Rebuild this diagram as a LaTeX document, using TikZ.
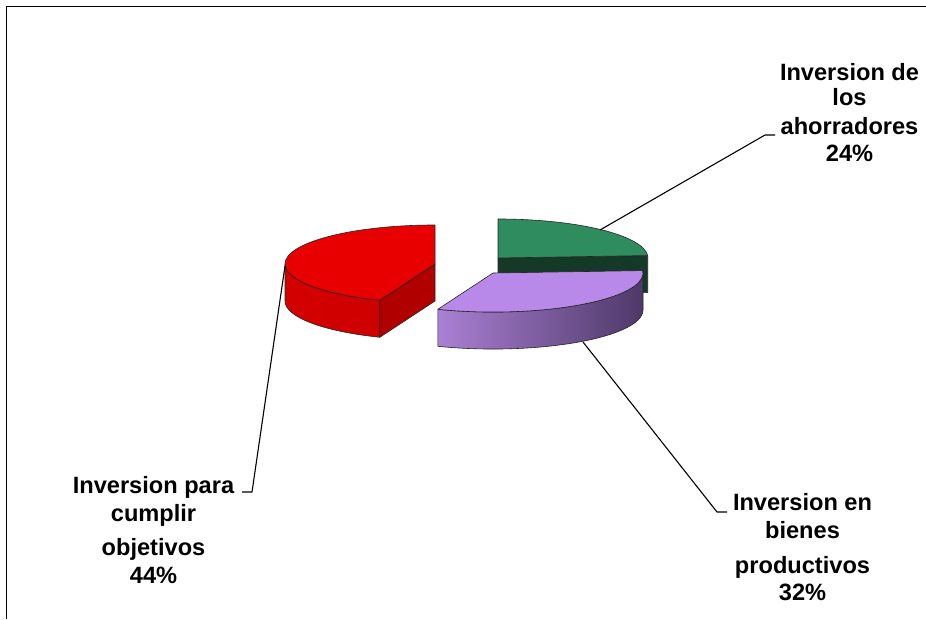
\documentclass[tikz,border=0pt]{standalone}
\usepackage{fontspec}
\setmainfont{Liberation Sans}
\newfontfamily\lblfont{Liberation Sans}[BoldFont={Liberation Sans Bold}]
\begin{document}
\begin{tikzpicture}[x=1pt,y=1pt,
  lbl/.style={font=\lblfont\bfseries\fontsize{23.6}{28}\selectfont, anchor=base, inner sep=0pt, text=black},
  leader/.style={draw=black, line width=1.1pt},
  edgeline/.style={draw=black!85, line width=0.6pt, line join=round},
  frame/.style={draw=black, line width=1pt}]
\definecolor{redtop}{RGB}{232,0,0}
\definecolor{redwallA}{RGB}{212,0,0}
\definecolor{redwallB}{RGB}{232,0,0}
\definecolor{redwallC}{RGB}{206,0,0}
\definecolor{redcut}{RGB}{176,0,0}
\definecolor{greentop}{RGB}{46,140,94}
\definecolor{greencut}{RGB}{21,57,39}
\definecolor{purptop}{RGB}{185,137,233}
\definecolor{purpwallA}{RGB}{170,128,212}
\definecolor{purpwallB}{RGB}{130,96,165}
\definecolor{purpwallC}{RGB}{78,56,104}
\useasboundingbox (0,0) rectangle (926,619);
\fill[white] (0,0) rectangle (926,619);
% frame
\coordinate (f1) at (6,0);
\coordinate (f2) at (6,612);
\coordinate (f3) at (926,612);
\draw[frame] (f1) -- (f2) -- (f3);
% ---------- red slice (44%) ----------
\coordinate (R) at (435,355);
\shade[left color=redwallA, middle color=redwallB, right color=redwallC]
  (285,355) arc[start angle=180,end angle=248.4,x radius=150,y radius=39]
  -- ++(0,-37) arc[start angle=248.4,end angle=180,x radius=150,y radius=39] -- cycle;
\draw[edgeline]
  (285,355) arc[start angle=180,end angle=248.4,x radius=150,y radius=39]
  -- ++(0,-37) arc[start angle=248.4,end angle=180,x radius=150,y radius=39] -- cycle;
\filldraw[edgeline, fill=redcut] (R) -- (379.8,318.7) -- (379.8,281.7) -- (435,318) -- cycle;
\filldraw[edgeline, fill=redtop] (R) -- (435,394)
  arc[start angle=90,end angle=248.4,x radius=150,y radius=39] -- cycle;
% ---------- green slice (24%) ----------
\coordinate (G) at (498,361);
\filldraw[edgeline, fill=greencut] (G) -- (647.7,363.4) -- (647.7,326.4) -- (498,324) -- cycle;
\filldraw[edgeline, fill=greentop] (G) -- (498,400)
  arc[start angle=90,end angle=3.6,x radius=150,y radius=39] -- cycle;
% ---------- purple slice (32%) ----------
\coordinate (P) at (493,346);
\shade[left color=purpwallA, middle color=purpwallB, right color=purpwallC]
  (437.8,309.7) arc[start angle=-111.6,end angle=0,x radius=150,y radius=39]
  -- ++(0,-37) arc[start angle=0,end angle=-111.6,x radius=150,y radius=39] -- cycle;
\draw[edgeline]
  (437.8,309.7) arc[start angle=-111.6,end angle=0,x radius=150,y radius=39]
  -- ++(0,-37) arc[start angle=0,end angle=-111.6,x radius=150,y radius=39] -- cycle;
\filldraw[edgeline, fill=purptop] (P) -- (642.7,348.4)
  arc[start angle=3.6,end angle=-111.6,x radius=150,y radius=39] -- cycle;
% ---------- labels ----------
\node[lbl] (g1) at (849.5,538.3) {Inversion de};
\node[lbl] (g2) at (849.5,513.3) {los};
\node[lbl] (g3) at (849.5,484) {ahorradores};
\node[lbl] (g4) at (849.5,457.3) {24\%};
\node[lbl] (p1) at (802.5,109) {Inversion en};
\node[lbl] (p2) at (802.5,81) {bienes};
\node[lbl] (p3) at (802.5,46) {productivos};
\node[lbl] (p4) at (802.5,19) {32\%};
\node[lbl] (r1) at (153.5,126) {Inversion para};
\node[lbl] (r2) at (153.5,98) {cumplir};
\node[lbl] (r3) at (153.5,64) {objetivos};
\node[lbl] (r4) at (153.5,36) {44\%};
% ---------- leaders ----------
\coordinate (gs) at (600,389);
\coordinate (gk) at (765,484);
\coordinate (ge) at (775,484);
\draw[leader] (gs) -- (gk) -- (ge);
\coordinate (ps) at (583,277);
\coordinate (pk) at (717,107);
\coordinate (pe) at (727,107);
\draw[leader] (ps) -- (pk) -- (pe);
\coordinate (rs) at (285,353);
\coordinate (rk) at (252,127);
\coordinate (re) at (242,127);
\draw[leader] (rs) -- (rk) -- (re);
\end{tikzpicture}
\end{document}
